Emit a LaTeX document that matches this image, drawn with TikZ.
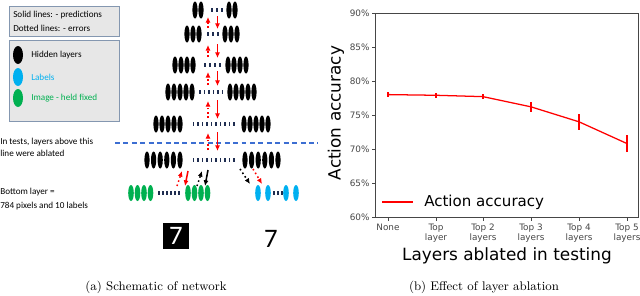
\documentclass[tikz,border=0pt]{standalone}
\usepackage{fontspec}
\newfontfamily\calib{Carlito}
\newfontfamily\djv{DejaVu Sans}
\usepackage{tikz}
\usetikzlibrary{arrows.meta}

\definecolor{labc}{RGB}{0,176,240}
\definecolor{imgc}{RGB}{0,176,80}
\definecolor{dotc}{RGB}{31,45,80}
\definecolor{boxc}{RGB}{132,151,176}
\definecolor{boxf}{RGB}{231,231,231}
\definecolor{cutc}{RGB}{60,110,210}
\definecolor{axc}{RGB}{70,70,70}

\tikzset{
  pred/.style={-{Latex[length=4pt,width=3.6pt]},line width=1.1pt},
  err/.style={-{Latex[length=4pt,width=3.6pt]},line width=1.1pt,dotted},
  legbox/.style={draw=boxc,fill=boxf,line width=0.7pt},
  legtext/.style={font=\calib\fontsize{6.5}{8.5}\selectfont,anchor=west,inner sep=0pt,align=left},
  ticktext/.style={font=\djv\fontsize{6.3}{7.1}\selectfont,inner sep=0pt,align=center},
  captext/.style={font=\fontsize{8.9}{10}\selectfont,inner sep=0pt},
}

\begin{document}
\begin{tikzpicture}[x=0.025cm,y=-0.025cm]
  \useasboundingbox (0,0) rectangle (640,296);

  % legend boxes
  \draw[legbox] (9,6) rectangle (119,36);
  \node[legtext] (solid) at (13,15.5) {Solid lines: - predictions};
  \node[legtext] (dots) at (13,28.5) {Dotted lines: - errors};

  \draw[legbox] (9,40) rectangle (119,121);
  \fill[black] (18,55) ellipse (5 and 9);
  \fill[labc] (18,77) ellipse (5 and 9);
  \fill[imgc] (18,98) ellipse (5 and 9);
  \node[legtext] (hid) at (31,55) {Hidden layers};
  \node[legtext,text=labc] (lab) at (31,77) {Labels};
  \node[legtext,text=imgc] (img) at (31,98) {Image - held fixed};

  \node[legtext,font=\calib\fontsize{6.5}{8.5}\selectfont] (ablnote) at (0,147) {In tests, layers above this\\line were ablated};
  \node[legtext,font=\calib\fontsize{6.5}{9.5}\selectfont] (botnote) at (0,199) {Bottom layer =\\784 pixels  and 10 labels};

  % hidden layers: y / units / inner left x / inner right x / gap / ticks / first tick x / tick gap
  \foreach \y/\n/\xl/\xr/\s/\m/\xd/\sd in {10/2/201/229/6/3/212/5, 34/3/199/225/6/3/208/5,
      65/4/193/228/6/4/205/5, 92/5/192/230/6/6/200/4.5,
      124/5/180/244/6/10/193.5/4.5, 160/6/180/245/6.6/10/193.5/4.5}{
    \foreach \i in {1,...,\n}{
      \fill (\xl-\s*\i+\s,\y) ellipse (2.6 and 8.5);
      \fill (\xr+\s*\i-\s,\y) ellipse (2.6 and 8.5);
    }
    \foreach \j in {1,...,\m}{
      \fill[dotc] (\xd+\sd*\j-\sd-0.7,\y-1.7) rectangle ++(1.4,3.4);
    }
  }

  % bottom layer: image and labels
  \foreach \x in {131,137.5,144,150.5,188,194.5,201,207.5}{
    \fill[imgc] (\x,193) ellipse (2.8 and 8);
  }
  \foreach \x in {159,163,167,171,175,179}{
    \fill[dotc] (\x-0.7,191.3) rectangle ++(1.4,3.4);
  }
  \foreach \x in {258,268,286,296}{
    \fill[labc] (\x,193) ellipse (2.8 and 8);
  }
  \foreach \x in {274,278,282}{
    \fill[dotc] (\x-0.7,191.3) rectangle ++(1.4,3.4);
  }

  % ablation cut
  \coordinate (cutl) at (115,143);
  \coordinate (cutr) at (318,143);
  \draw[draw=cutc,dash pattern=on 3.5pt off 2.5pt,line width=0.8pt] (cutl) -- (cutr);

  % arrows between hidden layers
  \foreach \k/\yt/\yb in {1/17/28, 2/45/57, 3/72/85, 4/101/118, 5/133/150}{
    \coordinate (eb\k) at (208,\yb);
    \coordinate (et\k) at (208,\yt);
    \coordinate (pt\k) at (217.5,\yt-1);
    \coordinate (pb\k) at (217.5,\yb+1);
    \draw[err,red] (eb\k) -- (et\k);
    \draw[pred,red] (pt\k) -- (pb\k);
  }

  % arrows to the bottom layer
  \coordinate (ie1) at (177,186);  \coordinate (ie2) at (182,171);
  \coordinate (ip1) at (188,171);  \coordinate (ip2) at (185,186);
  \coordinate (ke1) at (197,186);  \coordinate (ke2) at (202,171);
  \coordinate (kp1) at (208,170);  \coordinate (kp2) at (205,186);
  \coordinate (le1) at (240,169);  \coordinate (le2) at (250,184);
  \coordinate (lr1) at (253,169);  \coordinate (lr2) at (262,184);
  \draw[err,red] (ie1) -- (ie2);
  \draw[pred,red] (ip1) -- (ip2);
  \draw[err] (ke1) -- (ke2);
  \draw[pred] (kp1) -- (kp2);
  \draw[err] (le1) -- (le2);
  \draw[err,red] (lr1) -- (lr2);

  % the digit
  \node[fill=black,text=white,minimum size=18.5pt,inner sep=0pt,font=\calib\fontsize{19}{19}\selectfont] (digit) at (176,236) {7};
  \node[inner sep=0pt,font=\calib\fontsize{19}{19}\selectfont] (label) at (271,239) {7};

  \node[captext] (capa) at (156,287) {(a) Schematic of network};

  % accuracy plot
  \coordinate (orig) at (375,217);
  \coordinate (top) at (638,13);
  \draw[axc,line width=0.6pt] (orig) rectangle (top);

  \foreach \v in {60,65,...,90}{
    \draw[axc,line width=0.5pt] (375,{217-(\v-60)*6.8}) -- (372,{217-(\v-60)*6.8})
      node[ticktext,anchor=east,xshift=-1.5pt] (yt\v) {\v\%};
  }
  \foreach \x/\t [count=\i] in {388/None, 436/{Top\\layer}, 483/{Top 2\\layers},
      531/{Top 3\\layers}, 579/{Top 4\\layers}, 627/{Top 5\\layers}}{
    \draw[axc,line width=0.5pt] (\x,217) -- (\x,221)
      node[ticktext,anchor=north,yshift=-2pt] (xt\i) {\t};
  }

  \foreach \x/\v/\e [count=\i] in {388/78.0/0.35, 436/77.9/0.35, 483/77.7/0.35,
      531/76.2/0.7, 579/74.0/1.2, 627/70.8/1.25}{
    \coordinate (p\i) at (\x,{217-(\v-60)*6.8});
    \draw[red,line width=0.8pt] (\x,{217-(\v-\e-60)*6.8}) -- (\x,{217-(\v+\e-60)*6.8});
  }
  \draw[red,line width=0.9pt] (p1) -- (p2) -- (p3) -- (p4) -- (p5) -- (p6);

  \coordinate (leg1) at (382,202);
  \coordinate (leg2) at (413,202);
  \draw[red,line width=0.9pt] (leg1) -- (leg2);
  \node[anchor=west,inner sep=0pt,font=\djv\fontsize{10.7}{12}\selectfont] (legt) at (424,202) {Action accuracy};

  \node[rotate=90,inner sep=0pt,font=\djv\fontsize{12}{14}\selectfont] (ylab) at (336,113) {Action accuracy};
  \node[inner sep=0pt,font=\djv\fontsize{12}{14}\selectfont] (xlab) at (507,256) {Layers ablated in testing};

  \node[captext] (capb) at (484,287) {(b) Effect of layer ablation};
\end{tikzpicture}
\end{document}
